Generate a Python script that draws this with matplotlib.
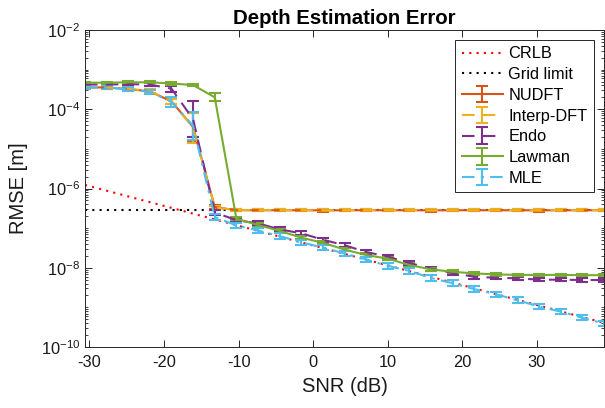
import numpy as np
import matplotlib
matplotlib.use("Agg")
import matplotlib.pyplot as plt
from matplotlib.ticker import LogLocator, FixedLocator, NullFormatter, LogFormatterMathtext

# SNR grid (dB)
snr_db = [-30.6, -27.7, -24.8, -21.9, -19.0, -16.1, -13.2, -10.3, -7.4, -4.5,
          -1.6, 1.3, 4.2, 7.1, 10.0, 12.9, 15.8, 18.7, 21.6, 24.5,
          27.4, 30.3, 33.2, 36.1, 39.0]

crlb = [1.23e-6, 8.81e-7, 6.31e-7, 4.52e-7, 3.24e-7, 2.32e-7, 1.66e-7, 1.19e-7,
        8.51e-8, 6.10e-8, 4.37e-8, 3.13e-8, 2.24e-8, 1.60e-8, 1.15e-8, 8.22e-9,
        5.89e-9, 4.22e-9, 3.02e-9, 2.16e-9, 1.55e-9, 1.11e-9, 7.94e-10, 5.69e-10,
        4.07e-10]
grid_limit = 2.85e-7

nudft = [3.55e-4, 3.55e-4, 3.24e-4, 2.82e-4, 1.58e-4, 3.55e-5, 3.39e-7, 2.84e-7,
         2.82e-7, 2.83e-7, 2.82e-7, 2.81e-7, 2.82e-7, 2.83e-7, 2.82e-7, 2.82e-7,
         2.81e-7, 2.82e-7, 2.83e-7, 2.82e-7, 2.82e-7, 2.81e-7, 2.82e-7, 2.82e-7,
         2.82e-7]
interp_dft = [3.6e-4, 3.55e-4, 3.3e-4, 2.85e-4, 1.6e-4, 3.4e-5, 3.3e-7, 2.86e-7,
              2.84e-7, 2.85e-7, 2.84e-7, 2.83e-7, 2.84e-7, 2.85e-7, 2.84e-7, 2.84e-7,
              2.83e-7, 2.84e-7, 2.85e-7, 2.84e-7, 2.84e-7, 2.83e-7, 2.84e-7, 2.84e-7,
              2.84e-7]
endo = [4.2e-4, 4.2e-4, 4.3e-4, 4.2e-4, 3.3e-4, 5.6e-5, 2.5e-7, 1.58e-7,
        1.32e-7, 9.3e-8, 7.4e-8, 5.1e-8, 3.7e-8, 2.5e-8, 1.9e-8, 1.32e-8,
        9.5e-9, 7.4e-9, 5.9e-9, 5.6e-9, 5.4e-9, 5.0e-9, 5.0e-9, 4.9e-9,
        4.9e-9]
lawman = [4.68e-4, 4.68e-4, 4.79e-4, 4.79e-4, 4.47e-4, 4.07e-4, 2.0e-4, 1.74e-7,
          1.2e-7, 8.5e-8, 5.75e-8, 4.27e-8, 2.88e-8, 2.09e-8, 1.70e-8, 1.17e-8,
          9.1e-9, 7.9e-9, 7.2e-9, 6.8e-9, 6.6e-9, 6.6e-9, 6.6e-9, 6.5e-9,
          6.5e-9]
mle = [3.55e-4, 3.55e-4, 3.16e-4, 2.75e-4, 1.55e-4, 3.8e-5, 1.9e-7, 1.17e-7,
       8.7e-8, 6.3e-8, 4.37e-8, 3.24e-8, 2.29e-8, 1.62e-8, 1.12e-8, 8.3e-9,
       5.5e-9, 4.07e-9, 2.88e-9, 2.14e-9, 1.51e-9, 1.05e-9, 7.8e-10, 5.5e-10,
       3.9e-10]

# error bar half-spread, in decades
nudft_err = [0.03, 0.03, 0.04, 0.05, 0.06, 0.35, 0.05, 0.03, 0.03, 0.03, 0.03, 0.03, 0.03,
             0.03, 0.03, 0.03, 0.03, 0.03, 0.03, 0.03, 0.03, 0.03, 0.03, 0.03, 0.03]
interp_err = [0.03, 0.03, 0.04, 0.05, 0.06, 0.38, 0.05, 0.03, 0.03, 0.03, 0.03, 0.03, 0.03,
              0.03, 0.03, 0.03, 0.03, 0.03, 0.03, 0.03, 0.03, 0.03, 0.03, 0.03, 0.03]
endo_err = [0.03, 0.03, 0.03, 0.04, 0.08, 0.45, 0.06, 0.05, 0.05, 0.05, 0.05, 0.05, 0.05,
            0.05, 0.05, 0.05, 0.05, 0.05, 0.05, 0.04, 0.04, 0.04, 0.04, 0.04, 0.04]
lawman_err = [0.03, 0.03, 0.03, 0.03, 0.03, 0.03, 0.10, 0.04, 0.04, 0.04, 0.04, 0.04, 0.04,
              0.04, 0.04, 0.04, 0.04, 0.04, 0.03, 0.03, 0.03, 0.03, 0.03, 0.03, 0.03]
mle_err = [0.04, 0.04, 0.05, 0.05, 0.13, 0.36, 0.07, 0.06, 0.07, 0.07, 0.07, 0.07, 0.07,
           0.07, 0.07, 0.07, 0.08, 0.07, 0.07, 0.07, 0.08, 0.07, 0.07, 0.07, 0.07]


def spread(vals, dec):
    v = np.asarray(vals)
    d = np.asarray(dec)
    return np.vstack([v - v / 10 ** d, v * 10 ** d - v])


plt.rcParams["font.family"] = ["Liberation Sans", "DejaVu Sans"]
plt.rcParams["mathtext.default"] = "regular"
plt.rcParams["axes.unicode_minus"] = False

fig = plt.figure(figsize=(6.05, 4.08), dpi=100)
ax = fig.add_axes([85 / 605, 1 - 347 / 408, (604 - 85) / 605, (347 - 30) / 408])

x = np.asarray(snr_db)
ax.plot(x, crlb, color="red", ls=(0, (1, 2.5)), lw=1.5, label="CRLB")
ax.plot(x, [grid_limit] * len(x), color="black", ls=(0, (1, 2.5)), lw=1.5, label="Grid limit")

series = [
    (nudft, nudft_err, "NUDFT", (0.85, 0.325, 0.098), "-"),
    (interp_dft, interp_err, "Interp-DFT", (0.929, 0.694, 0.125), (0, (6, 4))),
    (endo, endo_err, "Endo", (0.494, 0.184, 0.556), (0, (6, 4))),
    (lawman, lawman_err, "Lawman", (0.466, 0.674, 0.188), "-"),
    (mle, mle_err, "MLE", (0.301, 0.745, 0.933), (0, (6, 3, 1.5, 3))),
]
for vals, err, name, col, ls in series:
    eb = ax.errorbar(x, vals, yerr=spread(vals, err), color=col, lw=1.5,
                     elinewidth=1.5, capsize=4.5, capthick=1.5, label=name)
    eb[-1][0].set_linestyle("-")
    eb[0].set_linestyle(ls)

ax.set_yscale("log")
ax.set_ylim(1e-10, 1e-2)
ax.set_xlim(snr_db[0], snr_db[-1])
ax.yaxis.set_major_locator(FixedLocator([1e-10, 1e-8, 1e-6, 1e-4, 1e-2]))
ax.yaxis.set_major_formatter(LogFormatterMathtext())
ax.yaxis.set_minor_locator(LogLocator(base=10, subs=np.arange(1, 10), numticks=100))
ax.yaxis.set_minor_formatter(NullFormatter())
ax.set_xticks([-30, -20, -10, 0, 10, 20, 30])

ax.tick_params(which="both", direction="in", top=True, right=True, colors="0.15",
               labelsize=11.8, labelcolor="0.1")
ax.tick_params(which="major", length=5, width=0.7)
ax.tick_params(which="minor", length=2.5, width=0.6)
ax.tick_params(axis="x", pad=6)
for s in ax.spines.values():
    s.set_color("0.15")
    s.set_linewidth(0.7)

ax.set_xlabel("SNR (dB)", fontsize=14.5, color="0.1", labelpad=5)
ax.set_ylabel("RMSE [m]", fontsize=14.5, color="0.1", labelpad=9)
ax.set_title("Depth Estimation Error", fontsize=14.7, fontweight="bold", pad=4)

leg = ax.legend(loc="upper right", fontsize=11.8, fancybox=False, framealpha=1,
                edgecolor="0.15", borderaxespad=0.6, handlelength=2.5,
                handletextpad=0.35, labelspacing=0.35, borderpad=0.4)
leg.get_frame().set_linewidth(0.7)

fig.savefig("out.png", dpi=100)
